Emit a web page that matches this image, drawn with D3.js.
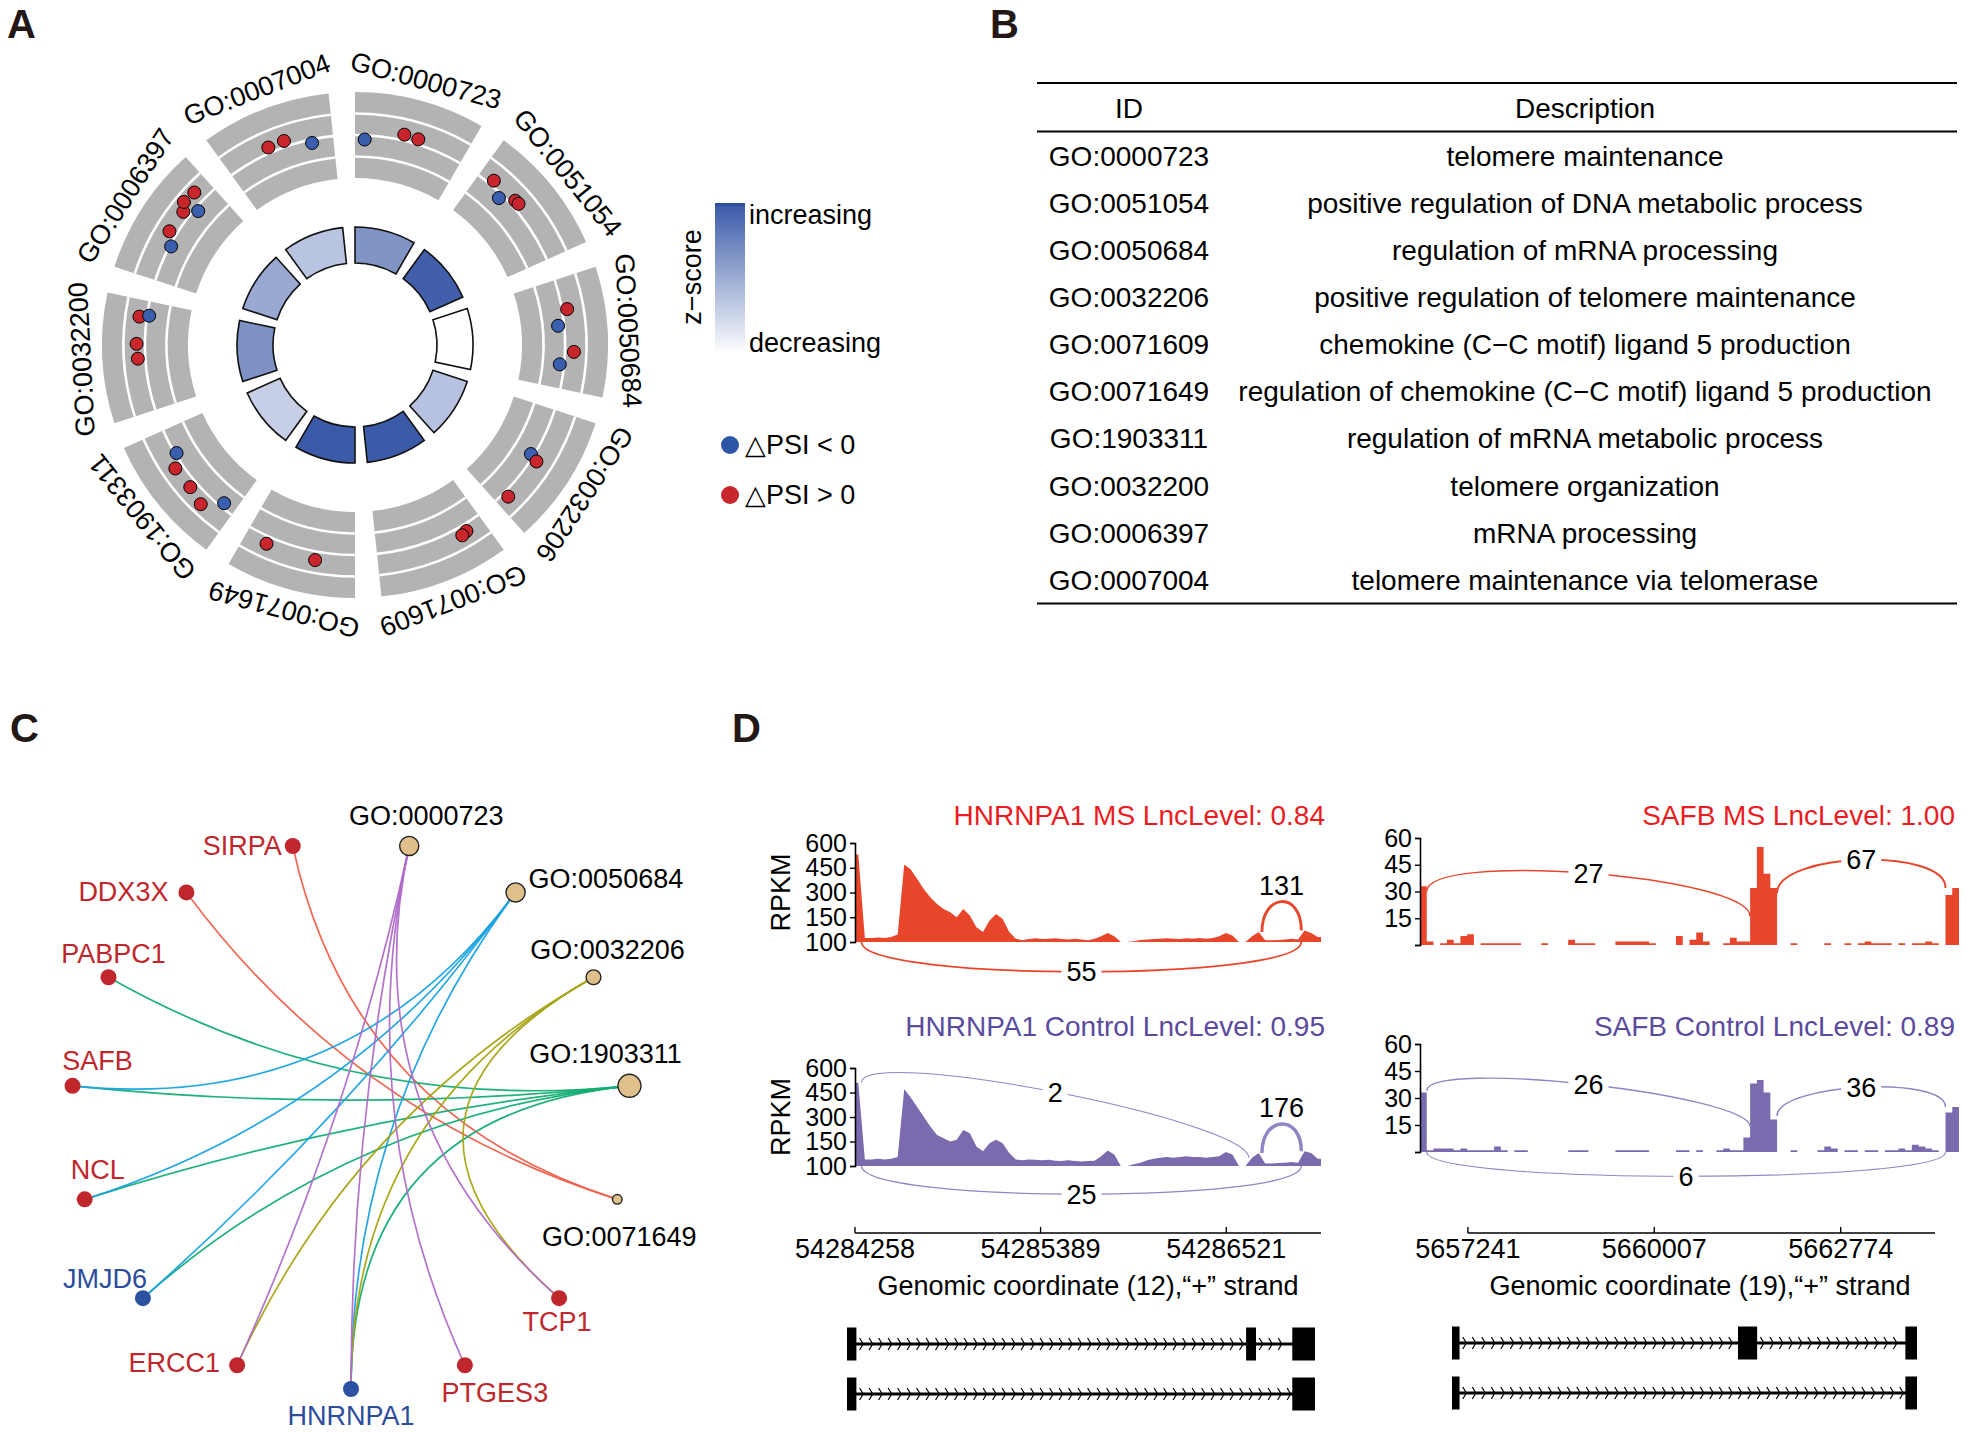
<!DOCTYPE html>
<html><head><meta charset="utf-8">
<script src="https://cdn.jsdelivr.net/npm/d3@7"></script>
<style>
html,body{margin:0;padding:0;background:#fff;}
text{font-family:"Liberation Sans",Arial,Helvetica,sans-serif;}
</style></head>
<body>
<svg id="fig" width="1965" height="1434" viewBox="0 0 1965 1434"></svg>
<script>
// ================= DATA =================
// Panel A / B : GO terms
const goIds = ["GO:0000723","GO:0051054","GO:0050684","GO:0032206","GO:0071609","GO:0071649","GO:1903311","GO:0032200","GO:0006397","GO:0007004"];
const goDescriptions = ["telomere maintenance","positive regulation of DNA metabolic process","regulation of mRNA processing","positive regulation of telomere maintenance","chemokine (C\u2212C motif) ligand 5 production","regulation of chemokine (C\u2212C motif) ligand 5 production","regulation of mRNA metabolic process","telomere organization","mRNA processing","telomere maintenance via telomerase"];
const goZScore = [0.65,0.97,0.0,0.37,1.0,1.0,0.29,0.66,0.52,0.36];
// relative position of each gene inside its GO sector (0..1)
const goGenePos = [
 [0.09,0.44,0.57],
 [0.14,0.28,0.40,0.44],
 [0.28,0.42,0.66,0.78],
 [0.46,0.49,0.89],
 [0.17,0.22],
 [0.35,0.80],
 [0.12,0.27,0.44,0.65,0.76],
 [0.48,0.61,0.85,0.87],
 [0.34,0.45,0.66,0.73,0.75,0.85],
 [0.41,0.56,0.80]
];
// delta PSI of each gene
const goGenePsi = [
 [-0.05,0.07,0.06],
 [0.06,-0.05,0.065,0.07],
 [0.06,-0.07,0.105,-0.05],
 [-0.035,0.065,0.065],
 [0.08,0.099],
 [0.102,0.088],
 [-0.054,0.136,0.088,0.093,-0.016],
 [0.088,0.098,0.086,-0.024],
 [-0.016,0.088,0.085,0.151,-0.044,0.134],
 [0.066,0.07,-0.04]
];
const zLegendLabels = ["increasing","decreasing"];
const psiLegendLabels = ["\u25B3PSI < 0","\u25B3PSI > 0"];

// Panel C : gene-concept network (circular order)
const netNodes = ["GO:0000723","GO:0050684","GO:0032206","GO:1903311","GO:0071649","TCP1","PTGES3","HNRNPA1","ERCC1","JMJD6","NCL","SAFB","PABPC1","DDX3X","SIRPA"];
const netGoTerms = ["GO:0000723","GO:0050684","GO:0032206","GO:1903311","GO:0071649"];
const netGoColors = ["#b06bc8","#1aa2e2","#a6a312","#14ad72","#f0604c"];
const netDownGenes = ["HNRNPA1","JMJD6"];
const netEdges = [
 ["SIRPA","GO:0071649"],["DDX3X","GO:0071649"],
 ["PABPC1","GO:1903311"],["SAFB","GO:1903311"],["NCL","GO:1903311"],["JMJD6","GO:1903311"],["HNRNPA1","GO:1903311"],
 ["SAFB","GO:0050684"],["NCL","GO:0050684"],["JMJD6","GO:0050684"],["HNRNPA1","GO:0050684"],
 ["ERCC1","GO:0032206"],["HNRNPA1","GO:0032206"],["TCP1","GO:0032206"],
 ["ERCC1","GO:0000723"],["HNRNPA1","GO:0000723"],["PTGES3","GO:0000723"],["TCP1","GO:0000723"]
];
// label offsets relative to node [dx, dy, anchor]
const netLabelOffsets = [[17,-30,"middle"],[13,-14,"start"],[14,-28,"middle"],[-24,-32,"middle"],[2,37,"middle"],
 [-2,23,"middle"],[30,27,"middle"],[0,27,"middle"],[-17,-3,"end"],[-38,-20,"middle"],[13,-30,"middle"],
 [25,-25,"middle"],[5,-24,"middle"],[-18,-1,"end"],[-11,0,"end"]];

// Panel D : sashimi plots
const sashimiTitles = ["HNRNPA1 MS LncLevel: 0.84","HNRNPA1 Control LncLevel: 0.95","SAFB MS LncLevel: 1.00","SAFB Control LncLevel: 0.89"];
const hnrnpa1Start = 54284258, hnrnpa1Bin = 40;
const hnrnpa1MS = [530,25,25,28,25,30,45,470,440,380, 320,270,230,200,180,150,200,160,90,60,
 130,170,140,60,20,10,18,22,18,20, 22,18,15,20,15,10,20,35,55,35,
 0,0,5,12,15,18,20,22,20,18, 22,20,25,20,25,35,55,40,0,0,
 35,60,10,10,12,15,20,15,70,55, 30];
const hnrnpa1Ctrl = [510,40,40,45,40,45,55,470,420,360, 300,240,190,170,150,160,220,200,120,90,
 140,160,140,80,40,35,40,38,35,38, 32,30,35,30,28,30,32,60,95,70,
 0,0,10,20,35,45,50,55,50,55, 60,55,55,50,55,60,85,70,0,0,
 50,80,15,15,18,20,25,20,90,80, 45];
const safbStart = 5656530, safbBin = 100;
const safbMS = [33,2,0,1,3,1,5,6,0,1, 1,1,1,1,1,0,0,0,1,0, 0,0,3,1,1,1,0,0,0,2, 2,2,2,2,1,0,0,0,5,0,
 3,7,2,0,0,1,4,2,2,32, 55,40,32,0,0,1,0,0,0,0, 1,0,0,1,0,1,2,1,1,1, 0,1,0,1,1,2,1,0,28,32];
const safbCtrl = [33,1,2,2,2,1,2,1,1,1, 1,3,1,0,1,1,0,0,0,0, 0,0,1,1,1,0,0,0,0,1, 1,1,1,1,0,0,0,0,1,1,
 0,1,0,0,1,2,1,1,8,38, 40,33,18,0,0,1,0,0,0,1, 3,2,0,1,1,0,1,1,0,1, 1,2,1,4,3,2,1,0,22,25];
const hnrnpa1MSJunctions = [
 {start:54284298,end:54286978,count:55,side:"bottom"},
 {start:54286738,end:54286978,count:131,side:"top",yL:60,yR:70}];
const hnrnpa1CtrlJunctions = [
 {start:54284298,end:54286658,count:2,side:"top",yL:510,yR:50},
 {start:54286738,end:54286978,count:176,side:"top",yL:80,yR:90},
 {start:54284298,end:54286978,count:25,side:"bottom"}];
const safbMSJunctions = [
 {start:5656630,end:5661430,count:27,side:"top",yL:30,yR:16},
 {start:5661830,end:5664330,count:67,side:"top",yL:29,yR:32}];
const safbCtrlJunctions = [
 {start:5656630,end:5661430,count:26,side:"top",yL:34,yR:14},
 {start:5661830,end:5664330,count:36,side:"top",yL:20,yR:25},
 {start:5656630,end:5664330,count:6,side:"bottom"}];
const hnrnpa1YTicks = [0,150,300,450,600];
const hnrnpa1YTickLabels = ["100","150","300","450","600"];
const safbYTicks = [0,15,30,45,60];
const safbYTickLabels = ["","15","30","45","60"];
const hnrnpa1XTicks = [54284258,54285389,54286521];
const safbXTicks = [5657241,5660007,5662774];
const axisTitles = ["Genomic coordinate (12),\u201C+\u201D strand","Genomic coordinate (19),\u201C+\u201D strand"];
const hnrnpa1Isoforms = [[[54284258,54284315],[54286680,54286740],[54286960,54287098]],[[54284258,54284315],[54286960,54287098]]];
const safbIsoforms = [[[5656530,5656660],[5661450,5661780],[5664330,5664530]],[[5656530,5656660],[5664330,5664530]]];

// ================= DRAWING =================
const svg = d3.select("#fig");
svg.append("rect").attr("width",1965).attr("height",1434).attr("fill","#fff");
const FS = 27;

// panel letters
[["A",7,38],["B",990,38],["C",10,742],["D",732,742]].forEach(([t,x,y])=>{
  svg.append("text").attr("x",x).attr("y",y).attr("font-size",40).attr("font-weight","bold").attr("fill","#231815").text(t);
});

// ---------- Panel A ----------
(function(){
  const cx=355, cy=345, deg=Math.PI/180;
  const g = svg.append("g").attr("transform",`translate(${cx},${cy})`);
  const sectorStart = d3.scaleLinear().domain([0, goIds.length]).range([0, 2*Math.PI]);
  const span = 30*deg;
  const zColor = d3.scaleLinear().domain([0,1]).range(["#ffffff","#3b5aa8"]);
  const rPsi = d3.scaleLinear().domain([-0.5,0.5]).range([167,253]);
  const arc = d3.arc();
  goIds.forEach((id,i)=>{
    const a0 = sectorStart(i), a1 = a0+span;
    g.append("path").attr("d",arc({innerRadius:167,outerRadius:253,startAngle:a0,endAngle:a1})).attr("fill","#b3b3b3");
    [-0.25,0,0.25].forEach(v=>{
      g.append("path").attr("d",arc({innerRadius:rPsi(v)-1.3,outerRadius:rPsi(v)+1.3,startAngle:a0,endAngle:a1})).attr("fill","#fff");
    });
    g.append("path").attr("d",arc({innerRadius:82,outerRadius:118,startAngle:a0,endAngle:a1}))
      .attr("fill",zColor(goZScore[i])).attr("stroke","#111").attr("stroke-width",1.6);
    const mid=(a0+a1)/2/deg;
    g.append("text").attr("transform",`rotate(${mid}) translate(0,-274)`).attr("text-anchor","middle")
      .attr("dy","0.35em").attr("font-size",FS).attr("fill","#000").text(id);
    goGenePos[i].forEach((p,j)=>{
      const a=a0+p*span, r=rPsi(goGenePsi[i][j]);
      g.append("circle").attr("cx",r*Math.sin(a)).attr("cy",-r*Math.cos(a)).attr("r",6.5)
        .attr("fill",goGenePsi[i][j]<0?"#3a5fae":"#c8262c").attr("stroke","#000").attr("stroke-width",1);
    });
  });
  // z-score legend
  const defs = svg.append("defs");
  const lg = defs.append("linearGradient").attr("id","zgrad").attr("x1",0).attr("y1",0).attr("x2",0).attr("y2",1);
  lg.append("stop").attr("offset","0%").attr("stop-color",zColor(1));
  lg.append("stop").attr("offset","100%").attr("stop-color",zColor(0));
  svg.append("rect").attr("x",715).attr("y",204).attr("width",30).attr("height",150).attr("fill","url(#zgrad)");
  svg.append("rect").attr("x",715).attr("y",203).attr("width",30).attr("height",3).attr("fill","#2d4f9e");
  svg.append("text").attr("transform","translate(692,277) rotate(-90)").attr("text-anchor","middle").attr("dy","0.35em")
    .attr("font-size",FS).text("z\u2212score");
  svg.append("text").attr("x",749).attr("y",215).attr("dy","0.35em").attr("font-size",FS).text(zLegendLabels[0]);
  svg.append("text").attr("x",749).attr("y",343).attr("dy","0.35em").attr("font-size",FS).text(zLegendLabels[1]);
  psiLegendLabels.forEach((t,i)=>{
    const y=445+i*50;
    svg.append("circle").attr("cx",730).attr("cy",y).attr("r",9).attr("fill",i===0?"#2e55a6":"#c8282d");
    svg.append("text").attr("x",745).attr("y",y).attr("dy","0.35em").attr("font-size",FS).text(t);
  });
})();

// ---------- Panel B ----------
(function(){
  const g = svg.append("g");
  const x0=1037, x1=1957, idX=1129, descX=1585;
  const rowY = d3.scaleLinear().domain([0,goIds.length-1]).range([156,580]);
  [83,131.5,603.5].forEach(y=>g.append("line").attr("x1",x0).attr("x2",x1).attr("y1",y).attr("y2",y).attr("stroke","#000").attr("stroke-width",2));
  g.append("text").attr("x",idX).attr("y",108).attr("dy","0.35em").attr("text-anchor","middle").attr("font-size",28).text("ID");
  g.append("text").attr("x",descX).attr("y",108).attr("dy","0.35em").attr("text-anchor","middle").attr("font-size",28).text("Description");
  goIds.forEach((id,i)=>{
    g.append("text").attr("x",idX).attr("y",rowY(i)).attr("dy","0.35em").attr("text-anchor","middle").attr("font-size",28).text(id);
    g.append("text").attr("x",descX).attr("y",rowY(i)).attr("dy","0.35em").attr("text-anchor","middle").attr("font-size",28).text(goDescriptions[i]);
  });
})();

// ---------- Panel C ----------
(function(){
  const g = svg.append("g");
  const cx=351, cy=1114.5, rx=280, ry=274.5, deg=Math.PI/180;
  const ang = d3.scaleLinear().domain([0,netNodes.length]).range([12*deg, 372*deg]);
  const pos = {};
  netNodes.forEach((n,k)=>{ pos[n]=[cx+rx*Math.sin(ang(k)), cy-ry*Math.cos(ang(k))]; });
  const termColor = d3.scaleOrdinal().domain(netGoTerms).range(netGoColors);
  const degree = {}; netEdges.forEach(([a,b])=>{degree[b]=(degree[b]||0)+1;});
  const rSize = d3.scaleSqrt().domain([2,5]).range([4.8,11.5]);
  netEdges.forEach(([gene,term])=>{
    const p=d3.path(); p.moveTo(...pos[gene]); p.quadraticCurveTo(cx,cy,...pos[term]);
    g.append("path").attr("d",p.toString()).attr("fill","none").attr("stroke",termColor(term)).attr("stroke-width",1.7).attr("opacity",0.95);
  });
  netNodes.forEach((n,k)=>{
    const [x,y]=pos[n];
    const isGo = netGoTerms.includes(n);
    if(isGo) g.append("circle").attr("cx",x).attr("cy",y).attr("r",rSize(degree[n])).attr("fill","#dfc08b").attr("stroke","#222").attr("stroke-width",1.4);
    else g.append("circle").attr("cx",x).attr("cy",y).attr("r",8).attr("fill",netDownGenes.includes(n)?"#2c50a2":"#c0272d");
    const [dx,dy,an]=netLabelOffsets[k];
    g.append("text").attr("x",x+dx).attr("y",y+dy).attr("dy","0.35em").attr("text-anchor",an).attr("font-size",FS)
      .attr("fill",isGo?"#000":(netDownGenes.includes(n)?"#2c4c9c":"#c0272d")).text(n);
  });
})();

// ---------- Panel D ----------
const lw = d3.scaleLinear().domain([0,180]).range([1,3.6]);
function sashimi(cfg){
  const g = svg.append("g");
  const x = d3.scaleLinear().domain(cfg.domain).range(cfg.xRange);
  const y = d3.scaleLinear().domain([0,cfg.ymax]).range(cfg.yRange);
  const n = cfg.values.length;
  let pts, curve;
  if(cfg.smooth){
    pts = [[cfg.domain[0], cfg.values[0]]].concat(cfg.values.map((v,i)=>[cfg.domain[0]+(i+0.5)*cfg.bin, v]))
      .concat([[cfg.domain[0]+n*cfg.bin, cfg.values[n-1]]]);
    curve = d3.curveLinear;
  } else {
    pts = cfg.values.map((v,i)=>[cfg.domain[0]+i*cfg.bin, v]);
    pts.push([cfg.domain[0]+n*cfg.bin, cfg.values[n-1]]);
    curve = d3.curveStepAfter;
  }
  const area = d3.area().x(d=>x(Math.min(d[0],cfg.domain[1]))).y0(y(0)).y1(d=>y(d[1])).curve(curve);
  g.append("path").attr("d",area(pts)).attr("fill",cfg.fill);
  const ax = d3.axisLeft(y).tickValues(cfg.yTicks).tickFormat((d,i)=>cfg.yTickLabels[i]).tickSizeOuter(0).tickSize(5).tickPadding(3);
  const ga = g.append("g").attr("transform",`translate(${cfg.xRange[0]},0)`).call(ax);
  ga.attr("font-family",null).attr("font-size",null);
  ga.select(".domain").attr("stroke","#000").attr("stroke-width",1.6);
  ga.selectAll(".tick line").attr("stroke","#000").attr("stroke-width",1.4);
  ga.selectAll(".tick text").attr("font-size",25).attr("fill","#000");
  if(cfg.ylabel){
    g.append("text").attr("transform",`translate(${cfg.xRange[0]-74},${(cfg.yRange[0]+cfg.yRange[1])/2}) rotate(-90)`)
      .attr("text-anchor","middle").attr("dy","0.35em").attr("font-size",FS).text(cfg.ylabel);
  }
  g.append("text").attr("x",cfg.titleX).attr("y",cfg.titleY).attr("dy","0.35em").attr("text-anchor","end")
    .attr("font-size",28).attr("fill",cfg.titleColor).text(cfg.title);
  const h = cfg.h;
  cfg.junctions.forEach(j=>{
    const x1=x(j.start), x2=x(j.end);
    const p = j.side==="top" ? [[x1,y(j.yL)],[x1,y(j.yL+h)],[x2,y(j.yR+h)],[x2,y(j.yR)]]
                             : [[x1,y(0)],[x1,y(-h)],[x2,y(-h)],[x2,y(0)]];
    const path=d3.path(); path.moveTo(...p[0]); path.bezierCurveTo(...p[1],...p[2],...p[3]);
    g.append("path").attr("d",path.toString()).attr("fill","none").attr("stroke",cfg.arc).attr("stroke-width",lw(j.count));
    const mx=(p[0][0]+3*p[1][0]+3*p[2][0]+p[3][0])/8, my=(p[0][1]+3*p[1][1]+3*p[2][1]+p[3][1])/8;
    const short=(x2-x1)<60;
    const t=g.append("text").attr("x",mx).attr("y",short?my-16:my).attr("dy","0.35em").attr("text-anchor","middle")
      .attr("font-size",FS).attr("fill","#000").text(j.count);
    if(!short){
      const bb=t.node().getBBox();
      g.insert("rect",()=>t.node()).attr("x",bb.x-5).attr("y",bb.y+3).attr("width",bb.width+10).attr("height",bb.height-6).attr("fill","#fff");
    }
  });
  return x;
}
function genomicAxis(x, ticks, axisEnd, yPos, title, titleX){
  const g=svg.append("g");
  g.append("line").attr("x1",x(ticks[0])).attr("x2",x(axisEnd)).attr("y1",yPos).attr("y2",yPos).attr("stroke","#000").attr("stroke-width",1.4);
  ticks.forEach(t=>{
    g.append("line").attr("x1",x(t)).attr("x2",x(t)).attr("y1",yPos-6).attr("y2",yPos).attr("stroke","#000").attr("stroke-width",1.4);
    g.append("text").attr("x",x(t)).attr("y",yPos+16).attr("dy","0.35em").attr("text-anchor","middle").attr("font-size",FS).text(t);
  });
  g.append("text").attr("x",titleX).attr("y",1286).attr("dy","0.35em").attr("text-anchor","middle").attr("font-size",FS).text(title);
}
function geneTrack(isoforms, domain, range, ys){
  const g=svg.append("g");
  const x=d3.scaleLinear().domain(domain).range(range);
  isoforms.forEach((iso,k)=>{
    const yc=ys[k];
    g.append("line").attr("x1",x(iso[0][0])).attr("x2",x(iso[iso.length-1][1])).attr("y1",yc).attr("y2",yc).attr("stroke","#000").attr("stroke-width",3);
    for(let e=0;e<iso.length-1;e++){
      const a=x(iso[e][1])+5, b=x(iso[e+1][0])-3;
      d3.range(a,b,9.5).forEach(c=>{
        g.append("path").attr("d",`M${c-1.8},${yc-6}L${c+1.8},${yc}L${c-1.8},${yc+6}`).attr("fill","none").attr("stroke","#000").attr("stroke-width",1.2);
      });
    }
    iso.forEach(([s,e])=>{
      g.append("rect").attr("x",x(s)).attr("y",yc-16.5).attr("width",Math.max(3,x(e)-x(s))).attr("height",33).attr("fill","#000");
    });
  });
}
const MSFILL="#e8462b", CTFILL="#7b6aae";
const xL = sashimi({domain:[54284258,54287098],xRange:[855,1321],bin:hnrnpa1Bin,values:hnrnpa1MS,ymax:600,yRange:[942,843],h:240,smooth:true,
  yTicks:hnrnpa1YTicks,yTickLabels:hnrnpa1YTickLabels,ylabel:"RPKM",fill:MSFILL,arc:MSFILL,title:sashimiTitles[0],titleX:1325,titleY:815,titleColor:"#ea1c1f",junctions:hnrnpa1MSJunctions});
sashimi({domain:[54284258,54287098],xRange:[855,1321],bin:hnrnpa1Bin,values:hnrnpa1Ctrl,ymax:600,yRange:[1166,1068],h:230,smooth:true,
  yTicks:hnrnpa1YTicks,yTickLabels:hnrnpa1YTickLabels,ylabel:"RPKM",fill:CTFILL,arc:"#9185c4",title:sashimiTitles[1],titleX:1325,titleY:1026,titleColor:"#5b4b9e",junctions:hnrnpa1CtrlJunctions});
const xR = sashimi({domain:[5656530,5664530],xRange:[1420,1959],bin:safbBin,values:safbMS,ymax:60,yRange:[945,838],h:23,smooth:false,
  yTicks:safbYTicks,yTickLabels:safbYTickLabels,fill:MSFILL,arc:MSFILL,title:sashimiTitles[2],titleX:1955,titleY:815,titleColor:"#ea1c1f",junctions:safbMSJunctions});
sashimi({domain:[5656530,5664530],xRange:[1420,1959],bin:safbBin,values:safbCtrl,ymax:60,yRange:[1152,1044],h:18,smooth:false,
  yTicks:safbYTicks,yTickLabels:safbYTickLabels,fill:CTFILL,arc:"#9185c4",title:sashimiTitles[3],titleX:1955,titleY:1026,titleColor:"#5b4b9e",junctions:safbCtrlJunctions});
genomicAxis(xL, hnrnpa1XTicks, 54287098, 1233, axisTitles[0], 1088);
genomicAxis(xR, safbXTicks, 5664174, 1233, axisTitles[1], 1700);
geneTrack(hnrnpa1Isoforms,[54284258,54287098],[847,1315],[1344,1394]);
geneTrack(safbIsoforms,[5656530,5664530],[1452,1917],[1343,1393]);
</script>
</body></html>
